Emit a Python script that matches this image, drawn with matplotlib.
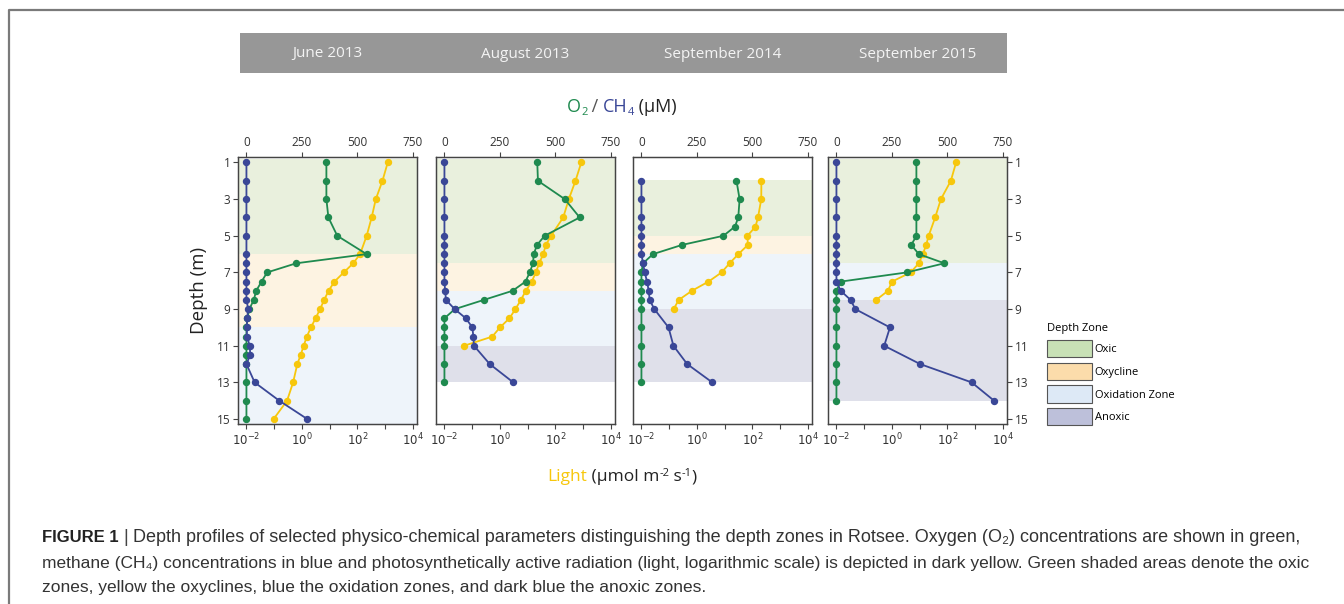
import matplotlib
matplotlib.use('Agg')
import matplotlib.pyplot as plt
from matplotlib.patches import Patch, Rectangle
from matplotlib.lines import Line2D

# ---- data ----
titles = ['June 2013', 'August 2013', 'September 2014', 'September 2015']

depth_jun13 = [1, 2, 3, 4, 5, 6, 6.5, 7, 7.5, 8, 8.5, 9, 9.5, 10, 10.5, 11, 11.5, 12, 13, 14, 15]
o2_jun13 = [360, 360, 360, 369, 409, 541, 224, 93, 68, 44, 33, 13, 4, 0, 0, 0, 0, 0, 0, 0, 0]
ch4_jun13 = [0, 0, 0, 0, 0, 0, 0, 0, 0, 0, 0, 8, 3, 2, 2, 15, 17, 0, 37, 148, 274]
light_jun13 = [1230, 794, 457, 324, 214, 124, 70, 32, 14.8, 9.1, 6.3, 4.5, 3.1, 2.1, 1.5, 1.15, 0.9, 0.68, 0.48, 0.29, 0.095]
ldepth_jun13 = depth_jun13

depth_aug13 = [1, 2, 3, 4, 5, 5.5, 6, 6.5, 7, 7.5, 8, 8.5, 9, 9.5, 10, 10.5, 11, 12, 13]
o2_aug13 = [418, 421, 542, 609, 451, 417, 402, 399, 384, 365, 307, 177, 47, 0, 0, 0, 0, 0, 0]
ch4_aug13 = [0, 0, 0, 0, 0, 0, 0, 0, 0, 0, 3, 7, 46, 96, 126, 130, 133, 204, 310]
ldepth_aug13 = [1, 2, 3, 4, 5, 5.5, 6, 6.5, 7, 7.5, 8, 8.5, 9, 9.5, 10, 10.5, 11]
light_aug13 = [850, 525, 302, 190, 69, 45, 36, 26, 19.5, 14, 8.5, 5.7, 3.6, 2.2, 1.0, 0.53, 0.051]

depth_sep14 = [2, 3, 4, 4.5, 5, 5.5, 6, 6.5, 7, 7.5, 8, 8.5, 9, 10, 11, 12, 13]
o2_sep14 = [428, 442, 436, 421, 369, 182, 52, 7, 0, 0, 0, 0, 0, 0, 0, 0, 0]
ch4_sep14 = [0, 0, 0, 0, 0, 0, 0, 7, 15, 25, 33, 37, 58, 122, 144, 206, 319]
ldepth_sep14 = [2, 3, 4, 4.5, 5, 5.5, 6, 6.5, 7, 7.5, 8, 8.5, 9]
light_sep14 = [209, 207, 158, 128, 66, 68, 31, 15, 7.7, 2.6, 0.66, 0.22, 0.145]

depth_sep15 = [1, 2, 3, 4, 5, 5.5, 6, 6.5, 7, 7.5, 8, 8.5, 9, 10, 11, 12, 13, 14]
o2_sep15 = [360, 360, 360, 360, 360, 337, 371, 486, 316, 19, 0, 0, 0, 0, 0, 0, 0, 0]
ch4_sep15 = [0, 0, 0, 0, 0, 0, 0, 0, 0, 0, 19, 64, 85, 241, 215, 377, 609, 710]
ldepth_sep15 = [1, 2, 3, 4, 5, 5.5, 6, 6.5, 7, 7.5, 8, 8.5]
light_sep15 = [204, 132, 58, 36, 21, 17, 13, 9.3, 4.7, 1.0, 0.72, 0.27]

zones_jun13 = [(0.8, 6, 'Oxic'), (6, 10, 'Oxycline'), (10, 15.4, 'Oxidation Zone')]
zones_aug13 = [(0.8, 6.5, 'Oxic'), (6.5, 8, 'Oxycline'), (8, 11, 'Oxidation Zone'), (11, 13, 'Anoxic')]
zones_sep14 = [(1.95, 5, 'Oxic'), (5, 6, 'Oxycline'), (6, 9, 'Oxidation Zone'), (9, 13, 'Anoxic')]
zones_sep15 = [(0.8, 6.5, 'Oxic'), (6.5, 8.5, 'Oxidation Zone'), (8.5, 14, 'Anoxic')]

panels = [
    (depth_jun13, o2_jun13, ch4_jun13, ldepth_jun13, light_jun13, zones_jun13),
    (depth_aug13, o2_aug13, ch4_aug13, ldepth_aug13, light_aug13, zones_aug13),
    (depth_sep14, o2_sep14, ch4_sep14, ldepth_sep14, light_sep14, zones_sep14),
    (depth_sep15, o2_sep15, ch4_sep15, ldepth_sep15, light_sep15, zones_sep15),
]

zone_names = ['Oxic', 'Oxycline', 'Oxidation Zone', 'Anoxic']
shade = {'Oxic': '#e9f0dd', 'Oxycline': '#fdf3e2', 'Oxidation Zone': '#eef4fa', 'Anoxic': '#dfe0ea'}
legend_col = {'Oxic': '#c8e1b6', 'Oxycline': '#fbdcab', 'Oxidation Zone': '#dde9f6', 'Anoxic': '#bdc0da'}

GREEN = '#1f8a4f'
BLUE = '#3a4797'
YELLOW = '#f7c70c'
AX_COL = '#444444'
FONT = ['Open Sans', 'DejaVu Sans']

plt.rcParams['font.family'] = FONT
plt.rcParams['mathtext.fontset'] = 'dejavusans'

W, H = 1344, 604
fig = plt.figure(figsize=(W / 100, H / 100), dpi=100)
renderer = fig.canvas.get_renderer()


def px_rect(x0, y0, x1, y1):
    return [x0 / W, 1 - y1 / H, (x1 - x0) / W, (y1 - y0) / H]


def seq_text(x, y, parts, center=False, **kw):
    # parts: (text, color, size, raise_px, weight)
    texts = []
    cx = x
    for s, c, fs, dy, wt in parts:
        t = fig.text(cx / W, 1 - (y - dy) / H, s, color=c, fontsize=fs, fontweight=wt,
                     ha='left', va='baseline', **kw)
        cx += t.get_window_extent(renderer).width
        texts.append(t)
    if center:
        shift = (cx - x) / 2
        for t in texts:
            px, py = t.get_position()
            t.set_position((px - shift / W, py))


# outer frame
fig.add_artist(Line2D([8.5 / W, 8.5 / W, 1], [0, 1 - 9.5 / H, 1 - 9.5 / H],
                      transform=fig.transFigure, color='#7a7a7a', lw=1.6))

# header bar
fig.add_artist(Rectangle((240 / W, 1 - 73 / H), (1007 - 240) / W, 40 / H,
                         transform=fig.transFigure, color='#979797', lw=0))

lefts = [238, 436, 633, 828]
width = 179
for i, (dep, o2, ch4, ldep, light, zones) in enumerate(panels):
    rect = px_rect(lefts[i], 157, lefts[i] + width, 424)
    lx = fig.add_axes(rect)
    ax = lx.twiny()
    ax.set_zorder(lx.get_zorder() + 1)
    ax.patch.set_visible(False)

    for top, bot, name in zones:
        lx.axhspan(top, bot, color=shade[name], lw=0, zorder=0)

    lx.set_xscale('log')
    lx.set_xlim(10 ** -2.304, 10 ** 4.144)
    lx.plot(light, ldep, color=YELLOW, lw=1.3, marker='o', ms=4.3, zorder=3)
    lx.set_ylim(15.27, 0.70)

    ax.plot(o2, dep, color=GREEN, lw=1.3, marker='o', ms=4.3, zorder=4)
    ax.plot(ch4, dep, color=BLUE, lw=1.3, marker='o', ms=4.3, zorder=5)
    ax.set_xlim(-38, 768)

    ax.xaxis.tick_top()
    ax.set_xticks([0, 250, 500, 750])
    lx.xaxis.tick_bottom()
    lx.set_xticks([1e-2, 1e-1, 1, 1e1, 1e2, 1e3, 1e4])
    lx.set_xticklabels(['$10^{-2}$', '', '$10^{0}$', '', '$10^{2}$', '', '$10^{4}$'])
    lx.minorticks_off()

    if i == 0:
        lx.set_yticks([1, 3, 5, 7, 9, 11, 13, 15])
        lx.yaxis.tick_left()
    elif i == 3:
        lx.set_yticks([1, 3, 5, 7, 9, 11, 13, 15])
        lx.yaxis.tick_right()
    else:
        lx.tick_params(axis='y', left=False, right=False, labelleft=False, labelright=False)

    for a in (ax, lx):
        a.tick_params(direction='out', length=3.5, width=0.8, color=AX_COL,
                      labelsize=8.5, labelcolor='#333333', pad=2)
        for sp in a.spines.values():
            sp.set_color(AX_COL)
            sp.set_linewidth(0.9)

    fig.text((lefts[i] + width / 2) / W, 1 - 54 / H, titles[i], ha='center', va='center',
             color='#f4f4f4', fontsize=11)

# axis titles
seq_text(622, 112, [('O', GREEN, 13, 0, 'normal'), ('2', GREEN, 8, -3, 'normal'),
                    (' / ', '#555555', 13, 0, 'normal'), ('CH', BLUE, 13, 0, 'normal'),
                    ('4', BLUE, 8, -3, 'normal'), (' (µM)', '#222222', 13, 0, 'normal')],
         center=True)
seq_text(622, 481, [('Light', YELLOW, 12.5, 0, 'normal'), (' (µmol m', '#222222', 12.5, 0, 'normal'),
                    ('-2', '#222222', 8, 5, 'normal'), (' s', '#222222', 12.5, 0, 'normal'),
                    ('-1', '#222222', 8, 5, 'normal'), (')', '#222222', 12.5, 0, 'normal')],
         center=True)
fig.text(199 / W, 1 - 290 / H, 'Depth (m)', rotation=90, ha='center', va='center',
         fontsize=13.5, color='#222222')

# depth zone legend
handles = [Patch(facecolor=legend_col[n], edgecolor='#555555', lw=0.8, label=n) for n in zone_names]
fig.legend(handles=handles, title='Depth Zone', loc='upper left',
           bbox_to_anchor=(1043 / W, 1 - 319 / H), frameon=False, fontsize=8,
           title_fontsize=8, handlelength=4.0, handleheight=2.0, labelspacing=0.5,
           handletextpad=0.25, alignment='left', borderaxespad=0)

# caption
CAP = ['Liberation Sans', 'DejaVu Sans']
seq_text(42, 542, [('FIGURE 1', '#222222', 12, 0, 'bold'), (' | ', '#444444', 13, 0, 'normal'),
                   ('Depth profiles of selected physico-chemical parameters distinguishing the depth zones '
                    'in Rotsee. Oxygen (O₂) concentrations are shown in green,', '#333333', 13, 0, 'normal')],
         family=CAP)
fig.text(42 / W, 1 - 568 / H, 'methane (CH₄) concentrations in blue and photosynthetically active radiation '
         '(light, logarithmic scale) is depicted in dark yellow. Green shaded areas denote the oxic',
         fontsize=12.5, color='#333333', family=CAP, va='baseline')
fig.text(42 / W, 1 - 592 / H, 'zones, yellow the oxyclines, blue the oxidation zones, and dark blue the anoxic zones.',
         fontsize=12.5, color='#333333', family=CAP, va='baseline')

fig.savefig('out.png', dpi=100)
